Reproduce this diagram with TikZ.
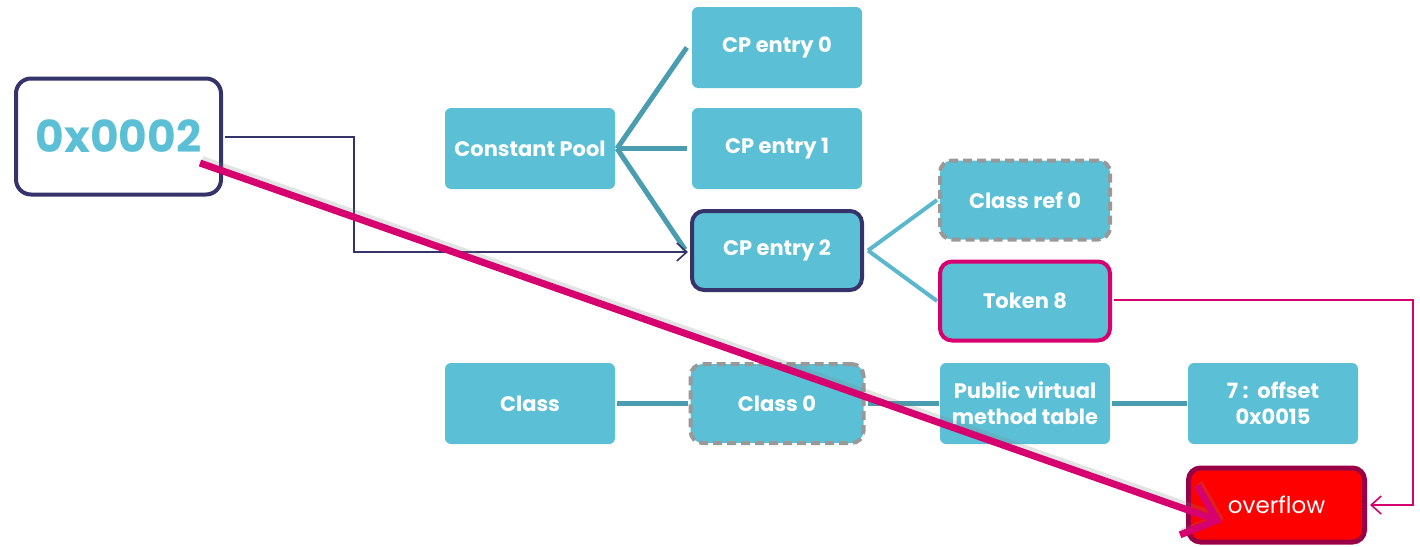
\documentclass[tikz,border=0pt]{standalone}
\usepackage{fontspec}
\setmainfont{Poppins}
\usetikzlibrary{arrows.meta,shadows}
\definecolor{boxc}{HTML}{5BBFD5}
\definecolor{navy}{HTML}{35336A}
\definecolor{linkc}{HTML}{4A9DAE}
\definecolor{linkl}{HTML}{5BB7CB}
\definecolor{mag}{HTML}{D6006E}
\definecolor{darkmag}{HTML}{9A0046}
\definecolor{dashg}{HTML}{999999}
\tikzset{
  x=1pt, y=-1pt,
  box/.style={fill=boxc, text=white, font=\bfseries\fontsize{21}{26}\selectfont, align=center,
     minimum width=170pt, minimum height=81pt, rounded corners=6pt, inner sep=0pt},
  navybox/.style={box, draw=navy, line width=4pt, rounded corners=12pt, minimum width=170pt, minimum height=79pt},
  dashbox/.style={box, draw=dashg, line width=4pt, dash pattern=on 9pt off 5pt, rounded corners=12pt, minimum width=170pt, minimum height=79pt},
  magbox/.style={box, draw=mag, line width=4pt, rounded corners=12pt, minimum width=170pt, minimum height=79pt},
  link/.style={draw=linkc, line width=5pt},
  linkL/.style={draw=linkl, line width=4pt},
  bigtip/.style={-{Straight Barb[length=30pt,width=52pt,line width=7pt]}},
}
\begin{document}
\begin{tikzpicture}
\useasboundingbox (0,0) rectangle (1420,546);
% nodes
\node[draw=navy, line width=4pt, fill=white, rounded corners=15pt, minimum width=205pt, minimum height=116pt,
  text=boxc, font=\bfseries\fontsize{44}{48}\selectfont, inner sep=0pt] (addr) at (118.5,136.5) {0x0002};
\node[box] (cp) at (530,148.5) {Constant Pool};
\node[box] (e0) at (777,47.5) {CP entry 0};
\node[box] (e1) at (777,148.5) {CP entry 1};
\node[navybox] (e2) at (777,250.5) {CP entry 2};
\node[dashbox] (cr) at (1025,200) {Class ref 0};
\node[magbox] (tok) at (1025,301) {Token 8};
\node[box] (cls) at (530,403.5) {Class};
\node[dashbox, minimum width=173pt] (c0) at (777,403.5) {Class 0};
\node[box] (pv) at (1025,403.5) {Public virtual\\method table};
\node[box] (off) at (1273,403.5) {7 :\ \ offset\\0x0015};
\node[draw=darkmag, fill=red, line width=5pt, rounded corners=12pt, minimum width=176pt, minimum height=74pt,
  text=white, font=\fontsize{23}{25}\selectfont, inner sep=0pt] (ov) at (1276.5,505) {overflow};
% connectors
\coordinate (cpR) at (617,148.5);
\draw[link] (cpR) -- ([xshift=-5pt]e0.west);
\draw[link] (cpR) -- ([xshift=-5pt]e1.west);
\draw[link] (cpR) -- ([xshift=-5pt,yshift=1pt]e2.west);
\coordinate (e2R) at (868,250.5);
\draw[linkL] (e2R) -- ([xshift=-1pt]cr.west);
\draw[linkL] (e2R) -- ([xshift=-1pt]tok.west);
\draw[link] (cls.east) ++(2,0) -- ([xshift=-1pt]c0.west);
\draw[link] ([xshift=2pt]c0.east) -- ([xshift=-1pt]pv.west);
\draw[link] ([xshift=2pt]pv.east) -- ([xshift=-1pt]off.west);
% thin arrows
\coordinate (b1) at (354,137);
\coordinate (b2) at (354,252);
\draw[navy, line width=1.6pt, -{Straight Barb[length=10pt,width=18pt,line width=1.6pt]}]
  ([xshift=2pt]addr.east |- b1) -- (b1) -- (b2) -- ([xshift=-2pt]e2.west |- b2);
\coordinate (t1) at (1413,300);
\coordinate (t2) at (1413,505);
\draw[mag, line width=1.6pt, -{Straight Barb[length=10pt,width=18pt,line width=1.6pt]}]
  ([xshift=2pt]tok.east |- t1) -- (t1) -- (t2) -- ([xshift=3pt]ov.east |- t2);
% big magenta arrow
\coordinate (ms) at (200,163);
\coordinate (me) at (1222,522);
\draw[black!50, opacity=0.22, line width=8pt, bigtip]
  ([xshift=2pt,yshift=3pt]ms) -- ([xshift=2pt,yshift=3pt]me);
\draw[mag, line width=7pt, bigtip] (ms) -- (me);
\end{tikzpicture}
\end{document}
